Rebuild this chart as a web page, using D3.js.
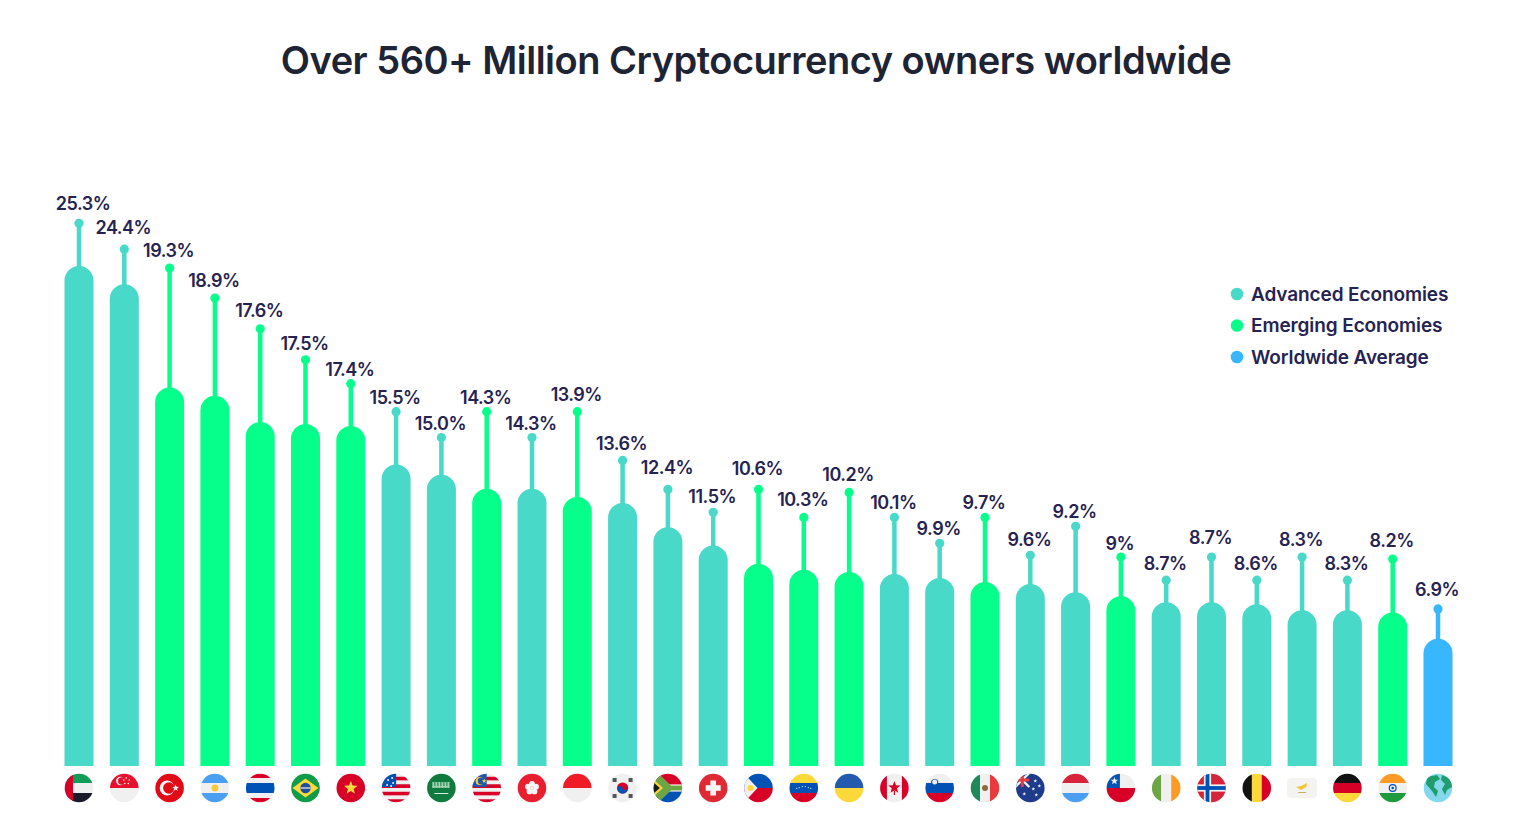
<!DOCTYPE html>
<html>
<head>
<meta charset="utf-8">
<title>Cryptocurrency owners worldwide</title>
<script src="https://cdn.jsdelivr.net/npm/d3@7"></script>
<style>
    html, body { margin: 0; background: #fff; }
    svg { display: block; font-family: Inter, "Noto Sans", sans-serif; }
</style>
</head>
<body>
<div id="chart"></div>
<script>
// Chart data
const titleText = 'Over 560+ Million Cryptocurrency owners worldwide';
const countries = ['UAE', 'Singapore', 'Turkey', 'Argentina', 'Thailand', 'Brazil', 'Vietnam', 'USA',
    'Saudi Arabia', 'Malaysia', 'Hong Kong', 'Indonesia', 'South Korea', 'South Africa', 'Switzerland',
    'Philippines', 'Venezuela', 'Ukraine', 'Canada', 'Slovenia', 'Mexico', 'Australia', 'Luxembourg',
    'Chile', 'Ireland', 'Norway', 'Belgium', 'Cyprus', 'Germany', 'India', 'Worldwide'];
const shares = [25.3, 24.4, 19.3, 18.9, 17.6, 17.5, 17.4, 15.5, 15.0, 14.3, 14.3, 13.9, 13.6, 12.4, 11.5,
    10.6, 10.3, 10.2, 10.1, 9.9, 9.7, 9.6, 9.2, 9, 8.7, 8.7, 8.6, 8.3, 8.3, 8.2, 6.9];
const shareLabels = ['25.3%', '24.4%', '19.3%', '18.9%', '17.6%', '17.5%', '17.4%', '15.5%', '15.0%', '14.3%',
    '14.3%', '13.9%', '13.6%', '12.4%', '11.5%', '10.6%', '10.3%', '10.2%', '10.1%', '9.9%', '9.7%', '9.6%',
    '9.2%', '9%', '8.7%', '8.7%', '8.6%', '8.3%', '8.3%', '8.2%', '6.9%'];
// Height of the pin above each bar and of its label, in the same % units as the bars
const pinLevels = [27.41, 26.13, 25.2, 23.72, 22.2, 20.67, 19.49, 18.11, 16.83, 18.11, 16.83, 18.11, 15.7, 14.27,
    13.14, 14.27, 12.89, 14.12, 12.89, 11.61, 12.89, 11.02, 12.45, 10.93, 9.79, 10.93, 9.79, 10.93, 9.79, 10.83, 8.37];
const labelLevels = [28.4, 27.22, 26.09, 24.61, 23.13, 21.51, 20.23, 18.85, 17.57, 18.85, 17.57, 19.0, 16.54, 15.36,
    13.93, 15.31, 13.78, 15.01, 13.63, 12.35, 13.63, 11.81, 13.19, 11.62, 10.63, 11.91, 10.63, 11.81, 10.63, 11.76, 9.35];
const groups = ['A', 'A', 'E', 'E', 'E', 'E', 'E', 'A', 'A', 'E', 'A', 'E', 'A', 'A', 'A', 'E', 'E', 'E', 'A', 'A',
    'E', 'A', 'A', 'E', 'A', 'A', 'A', 'A', 'A', 'E', 'W'];
const legendKeys = ['A', 'E', 'W'];
const legendNames = ['Advanced Economies', 'Emerging Economies', 'Worldwide Average'];
const legendColors = ['#48d9c9', '#06ff8a', '#38b6ff'];

// Define the drawing window
const width = 1515;
const height = 815;
const baseline = 766;
const barWidth = 29;
const flagY = 788;
const flagR = 14.3;
const inkColor = '#262352';

const svg = d3.select('#chart').append('svg')
    .attr('width', width)
    .attr('height', height)
    .attr('viewBox', `0 0 ${width} ${height}`);

// Create the x and y scales. The bars are cut off above the zero line by the flag row
const xScale = d3.scalePoint().domain(countries).range([79, 1438]);
const yScale = d3.scaleLinear().domain([0, 25.3]).range([778.5, 266]);
const colorScale = d3.scaleOrdinal().domain(legendKeys).range(legendColors);

svg.append('text')
    .attr('x', 756)
    .attr('y', 74)
    .attr('text-anchor', 'middle')
    .attr('font-size', 38)
    .attr('font-weight', 600)
    .attr('letter-spacing', -0.5)
    .attr('fill', '#1e2433')
    .text(titleText);

// One row per country, built from the arrays above
const rows = countries.map((country, i) => ({
    country,
    share: shares[i],
    label: shareLabels[i],
    pin: pinLevels[i],
    labelLevel: labelLevels[i],
    group: groups[i],
}));

// The bars, with a rounded top
const barPath = d => {
    const x = xScale(d.country);
    const top = yScale(d.share);
    const r = barWidth / 2;
    return `M${x - r},${baseline}V${top + r}A${r},${r} 0 0 1 ${x + r},${top + r}V${baseline}Z`;
};

const column = svg.append('g').selectAll('g').data(rows).join('g');

column.append('line')
    .attr('x1', d => xScale(d.country))
    .attr('x2', d => xScale(d.country))
    .attr('y1', d => yScale(d.pin))
    .attr('y2', d => yScale(d.share) + 4)
    .attr('stroke', d => colorScale(d.group))
    .attr('stroke-width', 4.5);

column.append('circle')
    .attr('cx', d => xScale(d.country))
    .attr('cy', d => yScale(d.pin))
    .attr('r', 4.6)
    .attr('fill', d => colorScale(d.group));

column.append('path')
    .attr('d', barPath)
    .attr('fill', d => colorScale(d.group));

column.append('text')
    .attr('x', (d, i) => xScale(d.country) + (i === 0 ? 4 : -1))
    .attr('y', d => yScale(d.labelLevel) + 0.5)
    .attr('dy', '0.36em')
    .attr('text-anchor', 'middle')
    .attr('font-size', 18)
    .attr('font-weight', 600)
    .attr('letter-spacing', -0.5)
    .attr('fill', inkColor)
    .text(d => d.label);

// The legend
const legend = svg.append('g').selectAll('g').data(legendKeys).join('g')
    .attr('transform', (d, i) => `translate(1237, ${294 + i * 31.5})`);

legend.append('circle')
    .attr('r', 6.3)
    .attr('fill', d => colorScale(d));

legend.append('text')
    .attr('x', 14)
    .attr('dy', '0.36em')
    .attr('font-size', 19)
    .attr('font-weight', 600)
    .attr('letter-spacing', -0.1)
    .attr('fill', inkColor)
    .text((d, i) => legendNames[i]);

// Small helpers for the flag icons (icon box runs from -14 to 14)
const rect = (g, x, y, w, h, fill) => g.append('rect').attr('x', x).attr('y', y).attr('width', w).attr('height', h).attr('fill', fill);
const dot = (g, x, y, r, fill) => g.append('circle').attr('cx', x).attr('cy', y).attr('r', r).attr('fill', fill);
const poly = (g, points, fill) => g.append('polygon').attr('points', points).attr('fill', fill);
const hStripes = (g, colors) => colors.forEach((c, i) => rect(g, -15, -15 + i * 30 / colors.length, 30, 30 / colors.length + 0.2, c));
const vStripes = (g, colors) => colors.forEach((c, i) => rect(g, -15 + i * 30 / colors.length, -15, 30 / colors.length + 0.2, 30, c));
const star = (g, x, y, r, fill) => {
    const pts = d3.range(10).map(i => {
        const a = -Math.PI / 2 + i * Math.PI / 5;
        const rr = i % 2 ? r * 0.42 : r;
        return `${x + rr * Math.cos(a)},${y + rr * Math.sin(a)}`;
    });
    poly(g, pts.join(' '), fill);
};

const flags = {
    'UAE': g => { hStripes(g, ['#0f9d58', '#f0f0f0', '#1a1a2a']); rect(g, -15, -15, 9, 30, '#d80027'); },
    'Singapore': g => { hStripes(g, ['#e8112d', '#f0f0f0']); dot(g, -4, -7, 4.2, '#f5f5f5'); dot(g, -2.5, -7, 3.8, '#e8112d'); [[1, -10], [4, -8], [3, -4.5], [-0.5, -4.5], [-1.5, -8]].forEach(p => dot(g, p[0] + 1, p[1], 0.8, '#f5f5f5')); },
    'Turkey': g => { rect(g, -15, -15, 30, 30, '#e30a17'); dot(g, -2.5, 0, 7.4, '#f5f5f5'); dot(g, -0.7, 0, 5.8, '#e30a17'); star(g, 6, 0, 3.6, '#f5f5f5'); },
    'Argentina': g => { hStripes(g, ['#4a9ff0', '#f0f0f0', '#4a9ff0']); dot(g, 0, 0, 3.4, '#fcc937'); },
    'Thailand': g => { hStripes(g, ['#d80027', '#f0f0f0', '#0052b4', '#0052b4', '#f0f0f0', '#d80027']); },
    'Brazil': g => { rect(g, -15, -15, 30, 30, '#109c46'); poly(g, '0,-9.5 13,0 0,9.5 -13,0', '#fcd83a'); dot(g, 0, 0, 5.2, '#1f4f9c'); rect(g, -5, -0.6, 10, 1.2, '#f0f0f0'); },
    'Vietnam': g => { rect(g, -15, -15, 30, 30, '#d80027'); star(g, 0, 0, 7.2, '#fcd83a'); },
    'USA': g => {
        hStripes(g, ['#f0f0f0', '#d80027', '#f0f0f0', '#d80027', '#f0f0f0', '#d80027', '#f0f0f0', '#d80027']);
        rect(g, -15, -15, 15, 14, '#0052b4');
        [[-8, -8], [-4, -10], [-3, -5], [-9, -3], [-5, -2]].forEach(p => dot(g, p[0], p[1], 1, '#f0f0f0'));
    },
    'Saudi Arabia': g => {
        rect(g, -15, -15, 30, 30, '#107b3e');
        [-9, -6, -3, 0, 3, 6].forEach(x => rect(g, x, -6, 2, 6, '#a5d3b5'));
        rect(g, -9, -2, 17, 1.4, '#a5d3b5');
        rect(g, -7, 5, 14, 1, '#d9ecdf');
    },
    'Malaysia': g => {
        hStripes(g, ['#f0f0f0', '#d80027', '#f0f0f0', '#d80027', '#f0f0f0', '#d80027', '#f0f0f0', '#d80027']);
        rect(g, -15, -15, 15, 14, '#2456a8'); dot(g, -7, -7, 4, '#fcd83a'); dot(g, -5.6, -7, 3.4, '#2456a8'); star(g, -2.5, -7, 2.4, '#fcd83a');
    },
    'Hong Kong': g => {
        rect(g, -15, -15, 30, 30, '#e81f2e');
        d3.range(5).forEach(i => {
            const a = -Math.PI / 2 + i * 2 * Math.PI / 5;
            dot(g, 4.2 * Math.cos(a), 4.2 * Math.sin(a), 2.9, '#f5f5f5');
        });
        dot(g, 0, 0, 1.7, '#f5f5f5');
    },
    'Indonesia': g => { hStripes(g, ['#ef1c27', '#f0f0f0']); },
    'South Korea': g => {
        rect(g, -15, -15, 30, 30, '#f0f0f0');
        dot(g, 0, 0, 5.6, '#d80027');
        g.append('path').attr('d', 'M-5.3,1.8A5.6,5.6 0 0 0 5.3,-1.8A2.8,2.8 0 0 1 0,0A2.8,2.8 0 0 0 -5.3,1.8Z').attr('fill', '#0052b4');
        [[-8, -8], [8, -8], [-8, 8], [8, 8]].forEach(p => rect(g, p[0] - 2, p[1] - 2, 4, 4, '#555'));
    },
    'South Africa': g => {
        hStripes(g, ['#d80027', '#d80027', '#f0f0f0', '#0052b4', '#0052b4']);
        rect(g, -15, -3.6, 30, 7.2, '#f0f0f0');
        rect(g, -2, -2.4, 17, 4.8, '#6da544');
        poly(g, '-15,-15 -10,-15 3,-2.4 3,2.4 -10,15 -15,15', '#6da544');
        poly(g, '-15,-9 -5,0 -15,9', '#fcd83a');
        poly(g, '-15,-6 -8,0 -15,6', '#1a1a1a');
    },
    'Switzerland': g => { rect(g, -15, -15, 30, 30, '#dd2a33'); rect(g, -7.5, -2.8, 15, 5.6, '#f5f5f5'); rect(g, -2.8, -7.5, 5.6, 15, '#f5f5f5'); },
    'Philippines': g => { hStripes(g, ['#0052b4', '#d80027']); poly(g, '-15,-15 -15,15 -1,0', '#f0f0f0'); dot(g, -8, 0, 3, '#fcd83a'); },
    'Venezuela': g => { hStripes(g, ['#fcd83a', '#0052b4', '#d80027']); [-7, -4.5, -1.5, 1.5, 4.5, 7].forEach(x => dot(g, x, Math.abs(x) * 0.35 - 2, 0.6, '#f0f0f0')); },
    'Ukraine': g => { hStripes(g, ['#2459b0', '#fcd83a']); },
    'Canada': g => { vStripes(g, ['#d80027', '#f0f0f0', '#f0f0f0', '#d80027']); star(g, 0, -0.5, 6.5, '#d80027'); dot(g, 0, 0, 2.6, '#d80027'); rect(g, -0.6, 3, 1.2, 4, '#d80027'); },
    'Slovenia': g => { hStripes(g, ['#f0f0f0', '#0052b4', '#d80027']); dot(g, -5, -5.5, 3.6, '#0052b4'); dot(g, -5, -6, 2.5, '#f0f0f0'); },
    'Mexico': g => { vStripes(g, ['#1e8a5a', '#f0f0f0', '#e83a3f']); dot(g, 0, 0, 3, '#8a6a3a'); },
    'Australia': g => {
        rect(g, -15, -15, 30, 30, '#1f3b8c');
        g.append('path').attr('d', 'M-15,-15L-1,-1M-1,-15L-15,-1').attr('stroke', '#f0f0f0').attr('stroke-width', 2.4);
        rect(g, -15, -9.5, 14, 3, '#e83a3f'); rect(g, -9.5, -15, 3, 14, '#e83a3f');
        [[5, -7], [9, -2], [3, 1], [6, 7], [-6, 6]].forEach(p => star(g, p[0], p[1], 1.9, '#f0f0f0'));
    },
    'Luxembourg': g => { hStripes(g, ['#d8243a', '#f0f0f0', '#4a9ff0']); },
    'Chile': g => { hStripes(g, ['#f0f0f0', '#d80027']); rect(g, -15, -15, 14, 15, '#0052b4'); star(g, -6.5, -7, 4, '#f0f0f0'); },
    'Ireland': g => { vStripes(g, ['#6da544', '#f0f0f0', '#ff9a24']); },
    'Norway': g => {
        rect(g, -15, -15, 30, 30, '#d8243a');
        rect(g, -15, -3.6, 30, 7.2, '#f0f0f0'); rect(g, -7.6, -15, 7.2, 30, '#f0f0f0');
        rect(g, -15, -1.9, 30, 3.8, '#0052b4'); rect(g, -5.9, -15, 3.8, 30, '#0052b4');
    },
    'Belgium': g => { vStripes(g, ['#111', '#fcd83a', '#d80027']); },
    // this flag is a rounded card rather than a circle, so it is not clipped below
    'Cyprus': g => {
        g.append('rect').attr('x', -15).attr('y', -10).attr('width', 30).attr('height', 20).attr('rx', 4).attr('fill', '#f3f3f1');
        poly(g, '-6,-1 -1,-2 5,-5 4,-1 -1,2', '#f4c430');
        rect(g, -4, 4, 8, 1, '#c9b060');
    },
    'Germany': g => { hStripes(g, ['#111', '#d80027', '#fcd83a']); },
    'India': g => { hStripes(g, ['#ff9a24', '#f0f0f0', '#1f9a3f']); dot(g, 0, 0, 4, '#0052b4'); dot(g, 0, 0, 2.8, '#f0f0f0'); dot(g, 0, 0, 1.3, '#0052b4'); },
    'Worldwide': g => {
        rect(g, -15, -15, 30, 30, '#84d8ee');
        g.append('path').attr('d', 'M-11,-11L-1,-13L2,-9L-3,-6L-4,-1L0,3L-2,9L-6,3L-12,-4Z').attr('fill', '#1f9d6d');
        g.append('path').attr('d', 'M4,-13L13,-9L14,-1L9,2L7,7L4,1L7,-4L3,-8Z').attr('fill', '#1f9d6d');
    },
};

// The flag row under the bars, one clipped circle per country
const defs = svg.append('defs');
defs.append('clipPath').attr('id', 'flag-clip').append('circle').attr('r', flagR);

svg.append('g').selectAll('g').data(rows).join('g')
    .attr('transform', d => `translate(${xScale(d.country)}, ${flagY})`)
    .append('g')
    .attr('clip-path', d => (d.country === 'Cyprus' ? null : 'url(#flag-clip)'))
    .each(function(d) {
        flags[d.country](d3.select(this));
    });
</script>
</body>
</html>
